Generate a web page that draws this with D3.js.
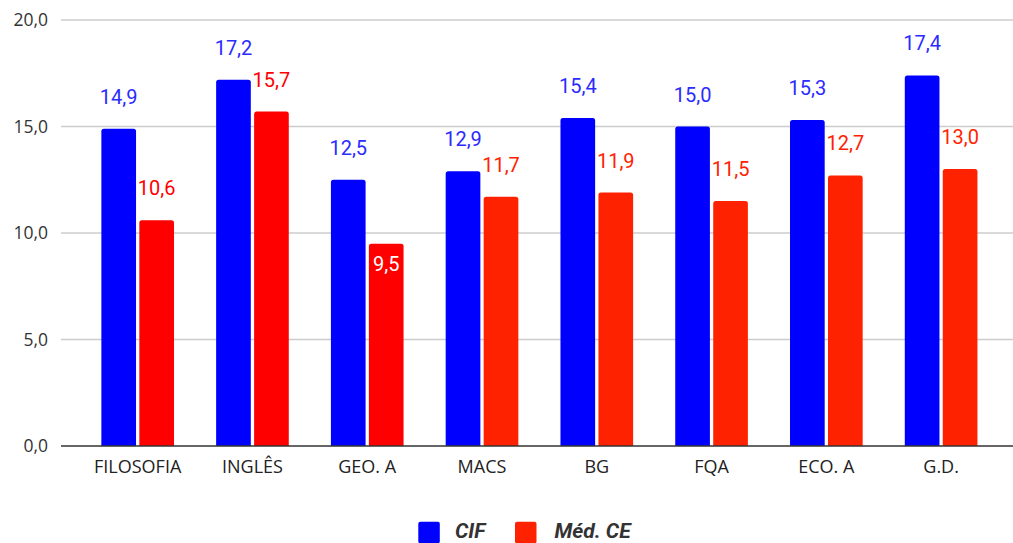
<!DOCTYPE html>
<html><head><meta charset="utf-8">
<script src="https://cdn.jsdelivr.net/npm/d3@7"></script>
<style>html,body{margin:0;padding:0;background:#fff;}svg{display:block;}</style>
</head><body>
<svg id="c" width="1013" height="543"></svg>
<script>
const categories = ["FILOSOFIA","INGLÊS","GEO. A","MACS","BG","FQA","ECO. A","G.D."];
const seriesNames = ["CIF","Méd. CE"];
const cif = [14.9,17.2,12.5,12.9,15.4,15.0,15.3,17.4];
const medCE = [10.6,15.7,9.5,11.7,11.9,11.5,12.7,13.0];
const yTicks = [0,5,10,15,20];

const blue = "#0000ff", blueLabel = "#2b2bff";
const redA = "#ff0000", redB = "#ff2200";
const medColors = categories.map((c,i)=> i<3 ? redA : redB);

const svg = d3.select("#c");
const y = d3.scaleLinear().domain([0,20]).range([446,20]);
const x0 = d3.scaleBand().domain(categories).range([80.3,998.5]).paddingInner(0.367).paddingOuter(0.1835);
const x1 = d3.scaleBand().domain(seriesNames).range([0,x0.bandwidth()]).paddingInner(0.0868).paddingOuter(0);
const fmt = v => d3.format(".1f")(v).replace(".",",");

// gridlines
svg.append("g").selectAll("line").data(yTicks.filter(t=>t>0)).join("line")
  .attr("x1",61).attr("x2",1013).attr("y1",d=>y(d)).attr("y2",d=>y(d))
  .attr("stroke","#cccccc").attr("stroke-width",1.3);

// y tick labels
svg.append("g").selectAll("text").data(yTicks).join("text")
  .attr("x",48).attr("y",d=>y(d)).attr("dy","0.35em").attr("text-anchor","end")
  .attr("font-family","'Open Sans', sans-serif").attr("font-size",17.5).attr("fill","#333")
  .text(d=>fmt(d));

function topRounded(x,yt,w,h,r){
  r=Math.min(r,h,w/2);
  return `M${x},${yt+h}V${yt+r}Q${x},${yt} ${x+r},${yt}H${x+w-r}Q${x+w},${yt} ${x+w},${yt+r}V${yt+h}Z`;
}

const data = [];
categories.forEach((c,i)=>{
  data.push({cat:c,s:"CIF",v:cif[i],color:blue,lab:blueLabel});
  data.push({cat:c,s:"Méd. CE",v:medCE[i],color:medColors[i],lab:medColors[i]});
});

svg.append("g").selectAll("path").data(data).join("path")
  .attr("d",d=>topRounded(x0(d.cat)+x1(d.s), y(d.v), x1.bandwidth(), y(0)-y(d.v), 2.5))
  .attr("fill",d=>d.color);

// baseline
svg.append("line").attr("x1",61).attr("x2",1013).attr("y1",y(0)).attr("y2",y(0))
  .attr("stroke","#333").attr("stroke-width",1.6);

// data labels
const inside = d => d.s==="Méd. CE" && d.cat==="GEO. A";
svg.append("g").selectAll("text").data(data).join("text")
  .attr("x",d=>x0(d.cat)+x1(d.s)+x1.bandwidth()/2)
  .attr("y",d=> inside(d) ? y(d.v)+20 : y(d.v)-32)
  .attr("dy","0.35em").attr("text-anchor","middle")
  .attr("font-family","Roboto, sans-serif").attr("font-size",20)
  .attr("fill",d=> inside(d) ? "#fff" : d.lab)
  .attr("stroke",d=> inside(d) ? "none" : "#fff")
  .attr("stroke-width",3).attr("paint-order","stroke").attr("stroke-linejoin","round")
  .text(d=>fmt(d.v));

// x labels
svg.append("g").selectAll("text").data(categories).join("text")
  .attr("x",d=>x0(d)+x0.bandwidth()/2).attr("y",467).attr("dy","0.35em")
  .attr("text-anchor","middle").attr("font-family","'Open Sans', sans-serif")
  .attr("font-size",18).attr("fill","#222").text(d=>d);

// legend
const legend = [{n:"CIF",c:blue,x:418.3,tx:455},{n:"Méd. CE",c:redB,x:515,tx:554.5}];
const lg = svg.append("g").selectAll("g").data(legend).join("g");
lg.append("rect").attr("x",d=>d.x).attr("y",521.7).attr("width",21.5).attr("height",21.5).attr("rx",2).attr("fill",d=>d.c);
lg.append("text").attr("x",d=>d.tx).attr("y",537.8)
  .attr("font-family","Roboto, sans-serif").attr("font-weight","bold").attr("font-style","italic")
  .attr("font-size",21).attr("fill","#333").text(d=>d.n);
</script>
</body></html>
